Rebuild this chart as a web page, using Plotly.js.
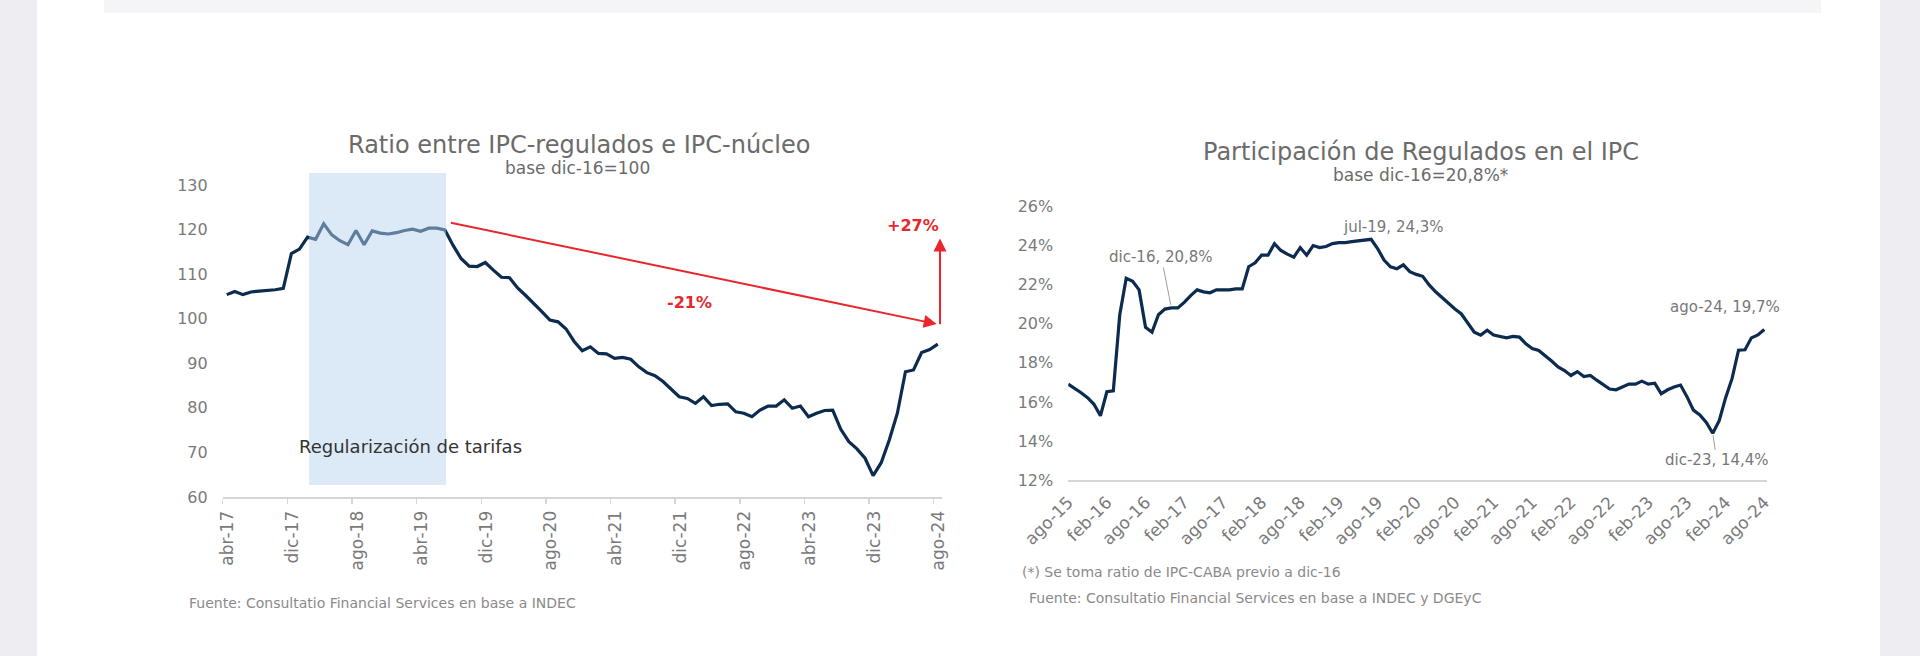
<!DOCTYPE html>
<html>
<head>
<meta charset="utf-8">
<script src="https://cdn.plot.ly/plotly-3.0.1.min.js"></script>
<style>
  html, body { margin: 0; padding: 0; background: #ededf2; }
  #chart { width: 1920px; height: 656px; }
</style>
</head>
<body>
<div id="chart"></div>
<script>
// ---------- DATA ----------
const MONTHS = ['ene','feb','mar','abr','may','jun','jul','ago','sep','oct','nov','dic'];
function monthLabels(startMonth, startYear, count) {
  const out = [];
  for (let i = 0; i < count; i++) {
    const m = (startMonth + i) % 12;
    const y = startYear + Math.floor((startMonth + i) / 12);
    out.push(MONTHS[m] + '-' + String(y % 100).padStart(2, '0'));
  }
  return out;
}

// Left chart: Ratio IPC-regulados / IPC-núcleo (base dic-16=100), abr-17 .. ago-24
const ratioMonths = monthLabels(3, 2017, 89);
const ratioValues = [
  105.4, 106.1, 105.4, 106.0, 106.2, 106.3, 106.5, 106.8, 114.6, 115.6,
  118.3, 117.8, 121.3, 118.8, 117.5, 116.6, 119.8, 116.6, 119.7, 119.2,
  119.0, 119.3, 119.8, 120.1, 119.6, 120.3, 120.3, 119.9, 116.5, 113.5,
  111.8, 111.7, 112.6, 110.9, 109.3, 109.2, 106.9, 105.2, 103.5, 101.6,
  99.7, 99.3, 97.7, 94.9, 92.8, 93.7, 92.2, 92.1, 91.1, 91.3,
  90.9, 89.2, 87.9, 87.2, 85.9, 84.2, 82.5, 82.1, 81.0, 82.5,
  80.5, 80.8, 80.9, 79.1, 78.8, 78.0, 79.5, 80.4, 80.4, 81.8,
  79.9, 80.4, 78.0, 78.8, 79.4, 79.5, 75.2, 72.4, 70.8, 68.7,
  64.8, 67.7, 72.8, 78.8, 88.1, 88.5, 92.4, 93.1, 94.3
];
const ratioTickEvery = 8;
const ratioYTicks = [60, 70, 80, 90, 100, 110, 120, 130];

// Right chart: Participación de Regulados en el IPC (%), ago-15 .. ago-24
const partMonths = monthLabels(7, 2015, 109);
const partValues = [
  16.91, 16.71, 16.47, 16.22, 15.88, 15.29, 16.52, 16.57, 20.45, 22.31,
  22.16, 21.72, 19.81, 19.56, 20.45, 20.74, 20.80, 20.80, 21.08, 21.43,
  21.72, 21.62, 21.57, 21.72, 21.72, 21.72, 21.77, 21.77, 22.90, 23.10,
  23.49, 23.49, 24.08, 23.73, 23.54, 23.39, 23.88, 23.49, 23.98, 23.88,
  23.93, 24.08, 24.13, 24.13, 24.18, 24.23, 24.28, 24.30, 23.83, 23.24,
  22.90, 22.80, 23.00, 22.65, 22.51, 22.41, 21.97, 21.62, 21.33, 21.03,
  20.74, 20.49, 20.00, 19.56, 19.41, 19.66, 19.41, 19.32, 19.27, 19.34,
  19.31, 18.97, 18.73, 18.63, 18.38, 18.09, 17.79, 17.60, 17.35, 17.55,
  17.30, 17.35, 17.11, 16.89, 16.66, 16.62, 16.78, 16.91, 16.91, 17.06,
  16.91, 16.96, 16.42, 16.62, 16.76, 16.86, 16.27, 15.58, 15.34, 14.95,
  14.40, 15.04, 16.22, 17.20, 18.64, 18.66, 19.27, 19.42, 19.70
];
const partTickEvery = 6;
const partYTicks = [12, 14, 16, 18, 20, 22, 24, 26];
const partYTickText = ['12%', '14%', '16%', '18%', '20%', '22%', '24%', '26%'];

// Labelled points on the right chart
const partLabels = [
  { month: 'dic-16', text: 'dic-16, 20,8%' },
  { month: 'jul-19', text: 'jul-19, 24,3%' },
  { month: 'dic-23', text: 'dic-23, 14,4%' },
  { month: 'ago-24', text: 'ago-24, 19,7%' }
];

// ---------- BUILD ----------
const FONT = 'DejaVu Sans, Open Sans, sans-serif';
const NAVY = '#0b2b4f';
const RED = '#e8262b';
const W = 1920, H = 656;
const px = v => v / W;
const py = v => 1 - v / H;

const ratioX = ratioValues.map((_, i) => i);
const partX = partValues.map((_, i) => i);

const ratioTickVals = [], ratioTickText = [];
for (let i = 0; i < ratioMonths.length; i += ratioTickEvery) {
  ratioTickVals.push(i - 0.5);
  ratioTickText.push(ratioMonths[i]);
}
const partTickVals = [], partTickText = [];
for (let i = 0; i < partMonths.length; i += partTickEvery) {
  partTickVals.push(i);
  partTickText.push(partMonths[i]);
}

const traces = [
  {
    x: ratioX, y: ratioValues, type: 'scatter', mode: 'lines',
    line: { color: NAVY, width: 3.2 }, xaxis: 'x', yaxis: 'y',
    hoverinfo: 'skip', showlegend: false
  },
  {
    x: partX, y: partValues, type: 'scatter', mode: 'lines',
    line: { color: NAVY, width: 3.2 }, xaxis: 'x2', yaxis: 'y2',
    hoverinfo: 'skip', showlegend: false
  }
];

const xTickFont = { family: FONT, size: 17, color: '#7a7a7a' };
const yTickFont = { family: FONT, size: 16, color: '#7a7a7a' };

const idx = (arr, m) => arr.indexOf(m);
const annPart = partLabels.map(l => {
  const i = idx(partMonths, l.month);
  const base = {
    xref: 'x2', yref: 'y2', x: i, y: partValues[i], text: l.text,
    xanchor: 'center', yanchor: 'middle',
    font: { family: FONT, size: 15, color: '#777777' }
  };
  if (l.month === 'dic-16') return Object.assign(base, { showarrow: true, arrowhead: 0, arrowwidth: 1, arrowcolor: '#a0a0a0', ax: -10, ay: -51, standoff: 3 });
  if (l.month === 'dic-23') return Object.assign(base, { showarrow: true, arrowhead: 0, arrowwidth: 1, arrowcolor: '#a0a0a0', ax: 4, ay: 27, standoff: 2 });
  if (l.month === 'jul-19') return Object.assign(base, { showarrow: false, xshift: 22, yshift: 12 });
  return Object.assign(base, { showarrow: false, xshift: -39, yshift: 22 });
});

function paperText(x, y, text, size, color, xanchor) {
  return { xref: 'paper', yref: 'paper', x: px(x), y: py(y), showarrow: false,
    xanchor: xanchor || 'center', yanchor: 'middle', text: text,
    font: { family: FONT, size: size, color: color } };
}

const layout = {
  width: W, height: H,
  margin: { l: 0, r: 0, t: 0, b: 0 },
  paper_bgcolor: '#ededf2',
  plot_bgcolor: 'rgba(0,0,0,0)',
  showlegend: false,
  font: { family: FONT },
  xaxis: {
    domain: [px(222.7), px(941.8)], range: [-0.5, 88.5],
    tickmode: 'array', tickvals: ratioTickVals, ticktext: ratioTickText,
    tickangle: -90, ticks: 'outside', ticklen: 5, tickwidth: 1.5, tickcolor: '#d6d6d6',
    showline: true, linecolor: '#d6d6d6', linewidth: 2,
    showgrid: false, zeroline: false, tickfont: xTickFont,
    ticklabelshift: 5, ticklabelstandoff: 0, anchor: 'y', fixedrange: true
  },
  yaxis: {
    domain: [py(497), py(171.6)], range: [60, 133],
    tickmode: 'array', tickvals: ratioYTicks,
    showline: false, showgrid: false, zeroline: false, ticks: '',
    tickfont: yTickFont, ticklabelstandoff: 14, anchor: 'x', fixedrange: true
  },
  xaxis2: {
    domain: [px(1068.2), px(1766.7)], range: [0, 108.37],
    tickmode: 'array', tickvals: partTickVals, ticktext: partTickText,
    tickangle: -45, ticks: '', showline: true, linecolor: '#d6d6d6', linewidth: 1.5,
    showgrid: false, zeroline: false, tickfont: xTickFont, ticklabelstandoff: 4,
    anchor: 'y2', fixedrange: true
  },
  yaxis2: {
    domain: [py(480.3), py(206)], range: [12, 26],
    tickmode: 'array', tickvals: partYTicks, ticktext: partYTickText,
    showline: false, showgrid: false, zeroline: false, ticks: '',
    tickfont: yTickFont, ticklabelstandoff: 14, anchor: 'x2', fixedrange: true
  },
  shapes: [
    { type: 'rect', xref: 'paper', yref: 'paper', x0: px(37), x1: px(1880), y0: 0, y1: 1,
      fillcolor: '#ffffff', line: { width: 0 }, layer: 'below' },
    { type: 'rect', xref: 'paper', yref: 'paper', x0: px(104), x1: px(1821), y0: py(13), y1: 1,
      fillcolor: '#f5f5f7', line: { width: 0 }, layer: 'below' },
    { type: 'rect', xref: 'x', yref: 'y', x0: 10.2, x1: 27.15, y0: 62.7, y1: 132.7,
      fillcolor: '#b7d2ee', opacity: 0.49, line: { width: 0 }, layer: 'above' }
  ],
  annotations: [
    paperText(578.5, 145, 'Ratio entre IPC-regulados e IPC-núcleo', 24, '#6b6b6b'),
    paperText(577.5, 167.7, 'base dic-16=100', 17, '#6b6b6b'),
    paperText(1420.8, 152.3, 'Participación de Regulados en el IPC', 24, '#6b6b6b'),
    paperText(1420.8, 175, 'base dic-16=20,8%*', 17, '#6b6b6b'),
    paperText(186.7, 602.7, 'Fuente: Consultatio Financial Services en base a INDEC', 14, '#8a8a8a', 'left'),
    paperText(1020, 572.3, '(*) Se toma ratio de IPC-CABA previo a dic-16', 14, '#8a8a8a', 'left'),
    paperText(1026.7, 598.3, 'Fuente: Consultatio Financial Services en base a INDEC y DGEyC', 14, '#8a8a8a', 'left'),
    { xref: 'x', yref: 'y', x: 22.75, y: 71.3, showarrow: false, xanchor: 'center', yanchor: 'middle',
      text: 'Regularización de tarifas', font: { family: FONT, size: 18, color: '#333333' } },
    { xref: 'x', yref: 'y', x: 57.3, y: 103.6, showarrow: false, xanchor: 'center', yanchor: 'middle',
      text: '<b>-21%</b>', font: { family: FONT, size: 16, color: RED } },
    { xref: 'x', yref: 'y', x: 84.9, y: 121.0, showarrow: false, xanchor: 'center', yanchor: 'middle',
      text: '<b>+27%</b>', font: { family: FONT, size: 16, color: RED } },
    { xref: 'x', yref: 'y', axref: 'x', ayref: 'y', x: 87.87, y: 98.8, ax: 27.55, ay: 121.6,
      text: '', showarrow: true, arrowhead: 2, arrowsize: 1.3, arrowwidth: 2, arrowcolor: RED, standoff: 0 },
    { xref: 'x', yref: 'y', axref: 'x', ayref: 'y', x: 88.28, y: 118.0, ax: 88.28, ay: 98.4,
      text: '', showarrow: true, arrowhead: 2, arrowsize: 1.3, arrowwidth: 2, arrowcolor: RED, standoff: 0 }
  ].concat(annPart)
};

Plotly.newPlot('chart', traces, layout, { staticPlot: true, displayModeBar: false });
</script>
</body>
</html>
